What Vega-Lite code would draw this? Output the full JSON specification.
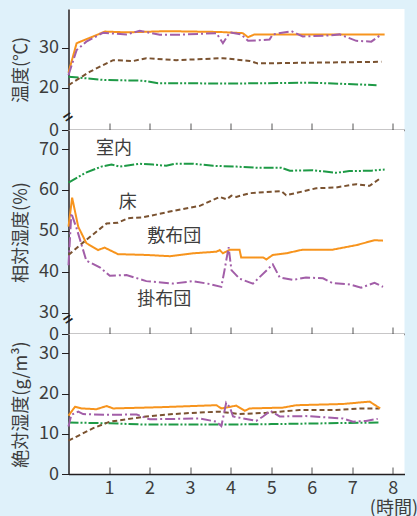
{
  "$schema": "https://vega.github.io/schema/vega-lite/v6.json",
  "background": "#dff1fa",
  "padding": {"left": 12.5, "top": 9, "right": 0, "bottom": 0},
  "bounds": "flush",
  "spacing": 0,
  "config": {
    "font": "Noto Sans CJK JP",
    "view": {"fill": "white", "stroke": null},
    "axis": {
      "grid": false,
      "domainColor": "#231f20",
      "domainWidth": 1.5,
      "tickColor": "#231f20",
      "tickWidth": 1,
      "labelColor": "#3d3d3d",
      "labelFontSize": 18,
      "labelFont": "Noto Sans CJK JP",
      "titleFont": "Noto Sans CJK JP",
      "titleColor": "#3d3d3d",
      "titleFontSize": 18,
      "titleFontWeight": "normal"
    },
    "axisX": {"tickColor": "#555555"}
  },
  "datasets": {
    "d": [
      {"p":1,"s":"室内","t":0,"v":22.8},{"p":1,"s":"室内","t":0.85,"v":22.0},{"p":1,"s":"室内","t":1.84,"v":21.8},{"p":1,"s":"室内","t":2.21,"v":21.2},{"p":1,"s":"室内","t":4.0,"v":21.1},{"p":1,"s":"室内","t":6.03,"v":21.3},{"p":1,"s":"室内","t":7.6,"v":20.7},
      {"p":1,"s":"床","t":0,"v":20.7},{"p":1,"s":"床","t":0.52,"v":24.0},{"p":1,"s":"床","t":1.1,"v":26.9},{"p":1,"s":"床","t":1.6,"v":26.7},{"p":1,"s":"床","t":1.92,"v":27.4},{"p":1,"s":"床","t":2.66,"v":26.9},{"p":1,"s":"床","t":3.81,"v":27.4},{"p":1,"s":"床","t":4.47,"v":26.7},{"p":1,"s":"床","t":4.67,"v":26.1},{"p":1,"s":"床","t":7.72,"v":26.5},
      {"p":1,"s":"敷布団","t":0,"v":23.8},{"p":1,"s":"敷布団","t":0.2,"v":31.1},{"p":1,"s":"敷布団","t":0.9,"v":34.0},{"p":1,"s":"敷布団","t":1.43,"v":33.8},{"p":1,"s":"敷布団","t":2.42,"v":34.1},{"p":1,"s":"敷布団","t":3.73,"v":33.9},{"p":1,"s":"敷布団","t":4.3,"v":33.6},{"p":1,"s":"敷布団","t":4.43,"v":32.6},{"p":1,"s":"敷布団","t":4.59,"v":33.3},{"p":1,"s":"敷布団","t":7.8,"v":33.3},
      {"p":1,"s":"掛布団","t":0,"v":23.2},{"p":1,"s":"掛布団","t":0.2,"v":29.4},{"p":1,"s":"掛布団","t":0.44,"v":31.5},{"p":1,"s":"掛布団","t":0.85,"v":33.7},{"p":1,"s":"掛布団","t":1.43,"v":33.3},{"p":1,"s":"掛布団","t":1.76,"v":34.2},{"p":1,"s":"掛布団","t":2.25,"v":33.2},{"p":1,"s":"掛布団","t":2.66,"v":33.2},{"p":1,"s":"掛布団","t":3.65,"v":33.6},{"p":1,"s":"掛布団","t":3.81,"v":31.1},{"p":1,"s":"掛布団","t":3.98,"v":33.8},{"p":1,"s":"掛布団","t":4.26,"v":33.3},{"p":1,"s":"掛布団","t":4.43,"v":31.7},{"p":1,"s":"掛布団","t":4.96,"v":32.0},{"p":1,"s":"掛布団","t":5.04,"v":33.3},{"p":1,"s":"掛布団","t":5.5,"v":34.1},{"p":1,"s":"掛布団","t":5.78,"v":32.8},{"p":1,"s":"掛布団","t":6.36,"v":33.0},{"p":1,"s":"掛布団","t":6.69,"v":33.3},{"p":1,"s":"掛布団","t":7.1,"v":31.7},{"p":1,"s":"掛布団","t":7.47,"v":31.5},{"p":1,"s":"掛布団","t":7.72,"v":33.3},
      {"p":2,"s":"室内","t":0,"v":61.8},{"p":2,"s":"室内","t":0.4,"v":64.1},{"p":2,"s":"室内","t":0.81,"v":65.7},{"p":2,"s":"室内","t":1.06,"v":66.2},{"p":2,"s":"室内","t":1.26,"v":65.7},{"p":2,"s":"室内","t":1.76,"v":66.4},{"p":2,"s":"室内","t":2.09,"v":66.2},{"p":2,"s":"室内","t":2.41,"v":65.9},{"p":2,"s":"室内","t":2.62,"v":66.4},{"p":2,"s":"室内","t":3.07,"v":66.4},{"p":2,"s":"室内","t":3.57,"v":65.9},{"p":2,"s":"室内","t":4.14,"v":65.7},{"p":2,"s":"室内","t":4.71,"v":65.4},{"p":2,"s":"室内","t":5.25,"v":65.4},{"p":2,"s":"室内","t":5.46,"v":64.7},{"p":2,"s":"室内","t":6.03,"v":64.8},{"p":2,"s":"室内","t":6.6,"v":64.2},{"p":2,"s":"室内","t":6.93,"v":64.6},{"p":2,"s":"室内","t":7.47,"v":64.7},{"p":2,"s":"室内","t":7.8,"v":65.0},
      {"p":2,"s":"床","t":0,"v":44.1},{"p":2,"s":"床","t":0.44,"v":47.8},{"p":2,"s":"床","t":0.94,"v":51.8},{"p":2,"s":"床","t":1.22,"v":52.0},{"p":2,"s":"床","t":1.47,"v":53.1},{"p":2,"s":"床","t":1.84,"v":53.3},{"p":2,"s":"床","t":2.5,"v":54.7},{"p":2,"s":"床","t":3.24,"v":56.1},{"p":2,"s":"床","t":3.73,"v":58.3},{"p":2,"s":"床","t":3.9,"v":57.7},{"p":2,"s":"床","t":4.02,"v":58.6},{"p":2,"s":"床","t":4.14,"v":58.3},{"p":2,"s":"床","t":4.47,"v":59.2},{"p":2,"s":"床","t":5.25,"v":59.7},{"p":2,"s":"床","t":5.37,"v":58.7},{"p":2,"s":"床","t":6.11,"v":60.4},{"p":2,"s":"床","t":6.6,"v":60.6},{"p":2,"s":"床","t":7.1,"v":61.4},{"p":2,"s":"床","t":7.43,"v":61.0},{"p":2,"s":"床","t":7.66,"v":62.6},
      {"p":2,"s":"敷布団","t":0,"v":51.0},{"p":2,"s":"敷布団","t":0.09,"v":58.1},{"p":2,"s":"敷布団","t":0.24,"v":51.0},{"p":2,"s":"敷布団","t":0.44,"v":47.0},{"p":2,"s":"敷布団","t":0.73,"v":45.3},{"p":2,"s":"敷布団","t":0.89,"v":45.9},{"p":2,"s":"敷布団","t":1.22,"v":44.3},{"p":2,"s":"敷布団","t":1.92,"v":44.1},{"p":2,"s":"敷布団","t":2.5,"v":43.8},{"p":2,"s":"敷布団","t":3.07,"v":44.5},{"p":2,"s":"敷布団","t":3.65,"v":44.9},{"p":2,"s":"敷布団","t":3.73,"v":45.3},{"p":2,"s":"敷布団","t":3.81,"v":44.5},{"p":2,"s":"敷布団","t":3.98,"v":45.4},{"p":2,"s":"敷布団","t":4.22,"v":45.4},{"p":2,"s":"敷布団","t":4.26,"v":43.5},{"p":2,"s":"敷布団","t":4.8,"v":43.5},{"p":2,"s":"敷布団","t":4.88,"v":43.0},{"p":2,"s":"敷布団","t":5.04,"v":44.1},{"p":2,"s":"敷布団","t":5.37,"v":44.5},{"p":2,"s":"敷布団","t":5.78,"v":45.4},{"p":2,"s":"敷布団","t":6.52,"v":45.4},{"p":2,"s":"敷布団","t":7.1,"v":46.5},{"p":2,"s":"敷布団","t":7.55,"v":47.7},{"p":2,"s":"敷布団","t":7.76,"v":47.6},
      {"p":2,"s":"掛布団","t":0,"v":41.6},{"p":2,"s":"掛布団","t":0.07,"v":54.3},{"p":2,"s":"掛布団","t":0.2,"v":50.6},{"p":2,"s":"掛布団","t":0.44,"v":42.7},{"p":2,"s":"掛布団","t":0.77,"v":41.1},{"p":2,"s":"掛布団","t":1.02,"v":39.0},{"p":2,"s":"掛布団","t":1.43,"v":39.2},{"p":2,"s":"掛布団","t":1.92,"v":37.7},{"p":2,"s":"掛布団","t":2.58,"v":37.1},{"p":2,"s":"掛布団","t":3.07,"v":37.7},{"p":2,"s":"掛布団","t":3.48,"v":37.0},{"p":2,"s":"掛布団","t":3.77,"v":36.3},{"p":2,"s":"掛布団","t":3.85,"v":40.4},{"p":2,"s":"掛布団","t":3.95,"v":46.0},{"p":2,"s":"掛布団","t":4.02,"v":40.4},{"p":2,"s":"掛布団","t":4.22,"v":38.3},{"p":2,"s":"掛布団","t":4.55,"v":37.1},{"p":2,"s":"掛布団","t":5.04,"v":41.8},{"p":2,"s":"掛布団","t":5.21,"v":38.6},{"p":2,"s":"掛布団","t":5.54,"v":38.0},{"p":2,"s":"掛布団","t":5.86,"v":38.6},{"p":2,"s":"掛布団","t":6.28,"v":38.4},{"p":2,"s":"掛布団","t":6.52,"v":37.2},{"p":2,"s":"掛布団","t":6.93,"v":36.9},{"p":2,"s":"掛布団","t":7.22,"v":36.1},{"p":2,"s":"掛布団","t":7.55,"v":37.3},{"p":2,"s":"掛布団","t":7.76,"v":36.3},
      {"p":3,"s":"室内","t":0,"v":12.8},{"p":3,"s":"室内","t":1.02,"v":12.6},{"p":3,"s":"室内","t":1.84,"v":12.3},{"p":3,"s":"室内","t":3.89,"v":12.3},{"p":3,"s":"室内","t":5.0,"v":12.4},{"p":3,"s":"室内","t":7.67,"v":12.8},
      {"p":3,"s":"床","t":0,"v":8.3},{"p":3,"s":"床","t":0.2,"v":9.3},{"p":3,"s":"床","t":0.61,"v":11.4},{"p":3,"s":"床","t":1.02,"v":13.0},{"p":3,"s":"床","t":1.92,"v":14.3},{"p":3,"s":"床","t":2.58,"v":14.9},{"p":3,"s":"床","t":3.24,"v":15.3},{"p":3,"s":"床","t":3.73,"v":15.5},{"p":3,"s":"床","t":4.22,"v":14.9},{"p":3,"s":"床","t":4.88,"v":15.2},{"p":3,"s":"床","t":5.7,"v":15.9},{"p":3,"s":"床","t":6.6,"v":15.9},{"p":3,"s":"床","t":7.18,"v":16.3},{"p":3,"s":"床","t":7.67,"v":16.3},
      {"p":3,"s":"敷布団","t":0,"v":14.5},{"p":3,"s":"敷布団","t":0.16,"v":16.7},{"p":3,"s":"敷布団","t":0.32,"v":16.3},{"p":3,"s":"敷布団","t":0.69,"v":16.1},{"p":3,"s":"敷布団","t":0.94,"v":16.9},{"p":3,"s":"敷布団","t":1.1,"v":16.3},{"p":3,"s":"敷布団","t":2.25,"v":16.6},{"p":3,"s":"敷布団","t":3.65,"v":17.1},{"p":3,"s":"敷布団","t":3.77,"v":16.3},{"p":3,"s":"敷布団","t":3.89,"v":16.5},{"p":3,"s":"敷布団","t":4.14,"v":17.0},{"p":3,"s":"敷布団","t":4.35,"v":15.7},{"p":3,"s":"敷布団","t":4.47,"v":16.3},{"p":3,"s":"敷布団","t":5.29,"v":16.5},{"p":3,"s":"敷布団","t":5.62,"v":17.1},{"p":3,"s":"敷布団","t":6.77,"v":17.4},{"p":3,"s":"敷布団","t":7.43,"v":18.0},{"p":3,"s":"敷布団","t":7.69,"v":16.3},
      {"p":3,"s":"掛布団","t":0,"v":11.8},{"p":3,"s":"掛布団","t":0.07,"v":14.7},{"p":3,"s":"掛布団","t":0.24,"v":15.5},{"p":3,"s":"掛布団","t":0.36,"v":14.9},{"p":3,"s":"掛布団","t":0.94,"v":14.7},{"p":3,"s":"掛布団","t":1.68,"v":14.8},{"p":3,"s":"掛布団","t":2.0,"v":13.6},{"p":3,"s":"掛布団","t":3.24,"v":13.8},{"p":3,"s":"掛布団","t":3.65,"v":13.0},{"p":3,"s":"掛布団","t":3.77,"v":11.9},{"p":3,"s":"掛布団","t":3.83,"v":14.7},{"p":3,"s":"掛布団","t":3.89,"v":17.7},{"p":3,"s":"掛布団","t":3.98,"v":16.6},{"p":3,"s":"掛布団","t":4.06,"v":14.3},{"p":3,"s":"掛布団","t":4.63,"v":13.2},{"p":3,"s":"掛布団","t":4.8,"v":14.3},{"p":3,"s":"掛布団","t":4.98,"v":15.7},{"p":3,"s":"掛布団","t":5.21,"v":14.3},{"p":3,"s":"掛布団","t":5.86,"v":14.4},{"p":3,"s":"掛布団","t":6.77,"v":13.8},{"p":3,"s":"掛布団","t":7.02,"v":13.0},{"p":3,"s":"掛布団","t":7.34,"v":13.2},{"p":3,"s":"掛布団","t":7.63,"v":13.7}
    ],
    "lab": [
      {"name":"室内","t":1.12,"v":70.0},
      {"name":"床","t":1.46,"v":56.8},
      {"name":"敷布団","t":2.61,"v":48.6},
      {"name":"掛布団","t":2.36,"v":33.1}
    ],
    "brk": [
      {"p":1,"t":0,"v":12.6},
      {"p":2,"t":0,"v":28.2}
    ]
  },
  "vconcat": [
    {
      "width": 336,
      "height": 121,
      "layer": [
        {
          "data": {"name": "d"},
          "transform": [{"filter": "datum.p == 1"}],
          "mark": {"type": "line", "strokeWidth": 2},
          "encoding": {
            "x": {"field": "t", "type": "quantitative", "scale": {"domain": [0, 8.29], "nice": false},
                  "axis": {"values": [1,2,3,4,5,6,7,8], "labels": false, "title": null, "tickSize": -7}},
            "y": {"field": "v", "type": "quantitative",
                  "scale": {"type": "linear", "domain": [0, 12, 39.6], "range": [121, 111.2, 0], "nice": false, "zero": false},
                  "axis": {"values": [0, 20, 30], "title": "温度(℃)", "tickSize": 7, "labelPadding": 3, "titlePadding": 8}},
            "color": {"field": "s", "type": "nominal", "legend": null,
                      "scale": {"domain": ["室内","床","敷布団","掛布団"], "range": ["#1e9a46","#7a5230","#f7941d","#a25ea8"]}},
            "strokeDash": {"field": "s", "type": "nominal", "legend": null,
                      "scale": {"domain": ["室内","床","敷布団","掛布団"], "range": [[10,2,2,2,2,2],[5,3],[1,0],[10,3,2,3]]}}
          }
        },
        {
          "data": {"name": "brk"},
          "transform": [{"filter": "datum.p == 1"}],
          "mark": {"type": "text", "text": "=", "fontSize": 16, "fontWeight": "bold", "angle": -35, "color": "#231f20"},
          "encoding": {
            "x": {"field": "t", "type": "quantitative"},
            "y": {"field": "v", "type": "quantitative"}
          }
        }
      ]
    },
    {
      "width": 336,
      "height": 204,
      "layer": [
        {
          "data": {"name": "d"},
          "transform": [{"filter": "datum.p == 2"}],
          "mark": {"type": "line", "strokeWidth": 2},
          "encoding": {
            "x": {"field": "t", "type": "quantitative", "scale": {"domain": [0, 8.29], "nice": false},
                  "axis": {"values": [1,2,3,4,5,6,7,8], "labels": false, "title": null, "tickSize": -7}},
            "y": {"field": "v", "type": "quantitative",
                  "scale": {"type": "linear", "domain": [0, 27, 74.65], "range": [204, 194.9, 0], "nice": false, "zero": false},
                  "axis": {"values": [0, 30, 40, 50, 60, 70], "title": "相対湿度(%)", "tickSize": 7, "labelPadding": 3, "titlePadding": 8}},
            "color": {"field": "s", "type": "nominal", "legend": null,
                      "scale": {"domain": ["室内","床","敷布団","掛布団"], "range": ["#1e9a46","#7a5230","#f7941d","#a25ea8"]}},
            "strokeDash": {"field": "s", "type": "nominal", "legend": null,
                      "scale": {"domain": ["室内","床","敷布団","掛布団"], "range": [[10,2,2,2,2,2],[5,3],[1,0],[10,3,2,3]]}}
          }
        },
        {
          "data": {"name": "lab"},
          "mark": {"type": "text", "fontSize": 18, "color": "#3d3d3d", "align": "center", "baseline": "middle"},
          "encoding": {
            "x": {"field": "t", "type": "quantitative"},
            "y": {"field": "v", "type": "quantitative"},
            "text": {"field": "name"}
          }
        },
        {
          "data": {"name": "brk"},
          "transform": [{"filter": "datum.p == 2"}],
          "mark": {"type": "text", "text": "=", "fontSize": 16, "fontWeight": "bold", "angle": -35, "color": "#231f20"},
          "encoding": {
            "x": {"field": "t", "type": "quantitative"},
            "y": {"field": "v", "type": "quantitative"}
          }
        }
      ]
    },
    {
      "width": 336,
      "height": 140,
      "data": {"name": "d"},
      "transform": [{"filter": "datum.p == 3"}],
      "mark": {"type": "line", "strokeWidth": 2},
      "encoding": {
        "x": {"field": "t", "type": "quantitative", "scale": {"domain": [0, 8.29], "nice": false},
              "axis": {"values": [1,2,3,4,5,6,7,8], "title": "(時間)", "tickSize": -7, "labelPadding": 12,
                       "titleAnchor": "end", "titleAlign": "right", "titleX": 349, "titleY": 25, "titleBaseline": "top"}},
        "y": {"field": "v", "type": "quantitative",
              "scale": {"domain": [0, 34.8], "nice": false},
              "axis": {"values": [0, 10, 20, 30], "title": "絶対湿度(g/m³)", "tickSize": 7, "labelPadding": 3, "titlePadding": 8}},
        "color": {"field": "s", "type": "nominal", "legend": null,
                  "scale": {"domain": ["室内","床","敷布団","掛布団"], "range": ["#1e9a46","#7a5230","#f7941d","#a25ea8"]}},
        "strokeDash": {"field": "s", "type": "nominal", "legend": null,
                  "scale": {"domain": ["室内","床","敷布団","掛布団"], "range": [[10,2,2,2,2,2],[5,3],[1,0],[10,3,2,3]]}}
      }
    }
  ]
}
